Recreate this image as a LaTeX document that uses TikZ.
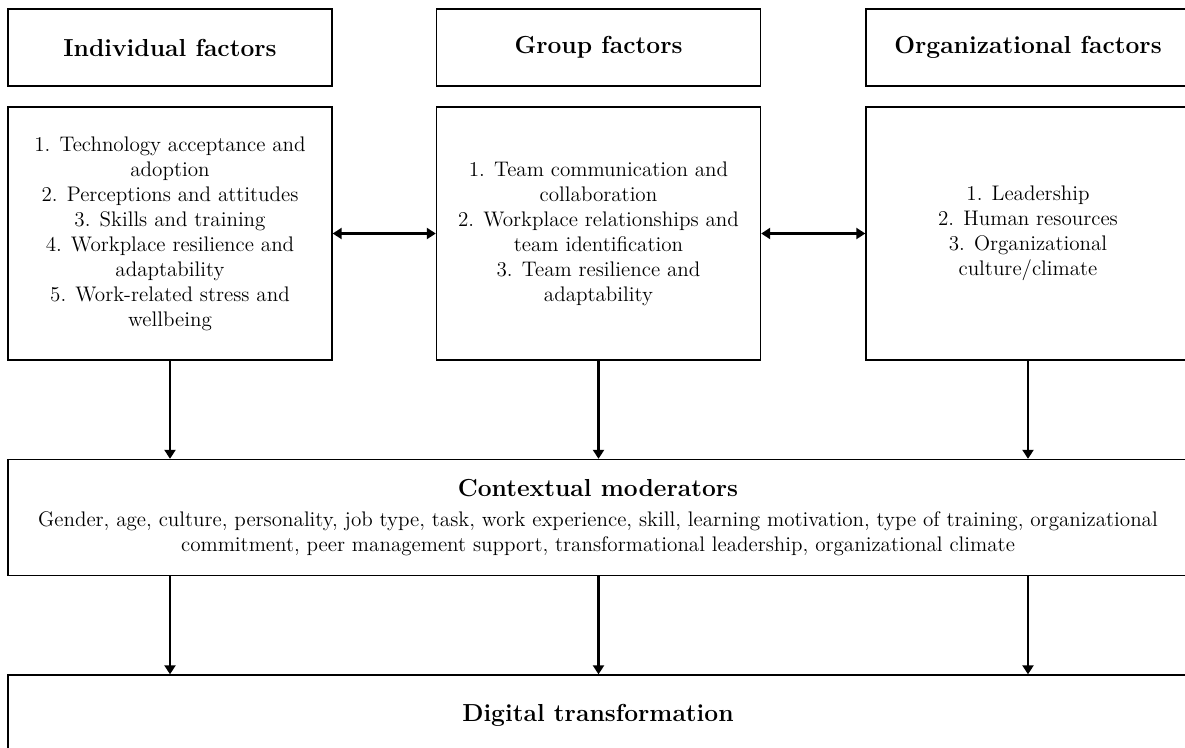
\documentclass[tikz,border=0pt]{standalone}
\usepackage{tikz}
\usetikzlibrary{arrows.meta, positioning}
\usepackage{amsmath}

\begin{document}
\begin{tikzpicture}[line width=0.8pt,
    box/.style={draw, minimum width=6.48cm, align=center, inner sep=0pt},
    head/.style={box, minimum height=1.54cm, font=\fontsize{14}{17}\selectfont\bfseries},
    list/.style={box, minimum height=5.06cm, font=\fontsize{12}{14.2}\selectfont},
    link/.style={{Triangle[length=1.8mm, width=2.2mm]}-{Triangle[length=1.8mm, width=2.2mm]}, line width=1.5pt},
    flow/.style={-{Triangle[length=1.8mm, width=2.2mm]}, line width=1.5pt}]

    \useasboundingbox (0,0) rectangle (23.7,-14.94);

    % Draw the factor headings
    \node[head] (indhead) at (3.40,-0.95) {Individual factors};
    \node[head] (grphead) at (11.97,-0.95) {Group factors};
    \node[head] (orghead) at (20.56,-0.95) {Organizational factors};

    % Draw the boxes with the lists
    \node[list] (indbox) at (3.40,-4.67) {1. Technology acceptance and\\ adoption\\ 2. Perceptions and attitudes\\ 3. Skills and training\\ 4. Workplace resilience and\\ adaptability\\ 5. Work-related stress and\\ wellbeing};
    \node[list] (grpbox) at (11.97,-4.67) {1. Team communication and\\ collaboration\\ 2. Workplace relationships and\\ team identification\\ 3. Team resilience and\\ adaptability};
    \node[list] (orgbox) at (20.56,-4.67) {1. Leadership\\ 2. Human resources\\ 3. Organizational\\ culture/climate};

    % Draw the moderators and the outcome
    \node[draw, minimum width=23.6cm, minimum height=2.32cm, align=center, font=\fontsize{12}{14.2}\selectfont] (ctx) at (11.96,-10.35)
        {{\fontsize{14}{17}\selectfont\bfseries Contextual moderators}\\[3pt]
        Gender, age, culture, personality, job type, task, work experience, skill, learning motivation, type of training, organizational\\
        commitment, peer management support, transformational leadership, organizational climate};
    \node[draw, minimum width=23.6cm, minimum height=1.6cm, font=\fontsize{14}{17}\selectfont\bfseries] (dig) at (11.96,-14.30) {Digital transformation};

    % Draw the links between the factor boxes
    \draw[link] (indbox) -- (grpbox);
    \draw[link] (grpbox) -- (orgbox);

    % Draw the arrows down to the moderators
    \draw[flow] (indbox.south) -- (indbox.south |- ctx.north);
    \draw[flow] (grpbox.south) -- (grpbox.south |- ctx.north);
    \draw[flow] (orgbox.south) -- (orgbox.south |- ctx.north);

    % Draw the arrows down to the outcome
    \draw[flow] (indbox.south |- ctx.south) -- (indbox.south |- dig.north);
    \draw[flow] (grpbox.south |- ctx.south) -- (grpbox.south |- dig.north);
    \draw[flow] (orgbox.south |- ctx.south) -- (orgbox.south |- dig.north);

\end{tikzpicture}
\end{document}
